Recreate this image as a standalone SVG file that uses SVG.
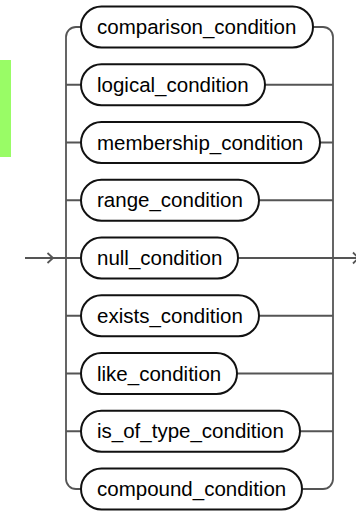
<svg xmlns="http://www.w3.org/2000/svg" width="356" height="511" viewBox="0 0 356 511">
<style>
.pill{fill:#fff;stroke:#111;stroke-width:2}
.lbl{font-family:"Liberation Sans",Arial,sans-serif;font-size:20.5px;fill:#000}
.wire{fill:none;stroke:#555;stroke-width:1.8}
</style>
<rect width="356" height="511" fill="#fff"/>
<rect x="0" y="60" width="11" height="97" fill="#99fc66"/>
<g id="connectors">
<path class="wire" d="M25,258 H81"/>
<path class="wire" d="M47.5,253 L53,258 L47.5,263"/>
<path class="wire" d="M66,37 A10,10 0 0 1 76,27 H81"/>
<path class="wire" d="M66,37 V479 A10,10 0 0 0 76,489 H81"/>
<path class="wire" d="M66,84.75 H81 M66,142.5 H81 M66,200.25 H81 M66,315.75 H81 M66,373.5 H81 M66,431.25 H81"/>
<path class="wire" d="M313,27 H323 A10,10 0 0 1 333,37 V479 A10,10 0 0 1 323,489 H302"/>
<path class="wire" d="M265,84.75 H333 M320,142.5 H333 M259,200.25 H333 M259,315.75 H333 M237,373.5 H333 M300,431.25 H333"/>
<path class="wire" d="M238,258 H356"/>
<path class="wire" d="M353,252.5 L358.5,258 L353,263.5"/>
</g>
<g id="n1"><rect class="pill" x="81" y="6.5" width="232" height="41" rx="20.5"/><text class="lbl" x="97" y="34">comparison_condition</text></g>
<g id="n2"><rect class="pill" x="81" y="64.25" width="184" height="41" rx="20.5"/><text class="lbl" x="97" y="91.75">logical_condition</text></g>
<g id="n3"><rect class="pill" x="81" y="122" width="239" height="41" rx="20.5"/><text class="lbl" x="97" y="149.5">membership_condition</text></g>
<g id="n4"><rect class="pill" x="81" y="179.75" width="178" height="41" rx="20.5"/><text class="lbl" x="97" y="207.25">range_condition</text></g>
<g id="n5"><rect class="pill" x="81" y="237.5" width="157" height="41" rx="20.5"/><text class="lbl" x="97" y="265">null_condition</text></g>
<g id="n6"><rect class="pill" x="81" y="295.25" width="178" height="41" rx="20.5"/><text class="lbl" x="97" y="322.75">exists_condition</text></g>
<g id="n7"><rect class="pill" x="81" y="353" width="156" height="41" rx="20.5"/><text class="lbl" x="97" y="380.5">like_condition</text></g>
<g id="n8"><rect class="pill" x="81" y="410.75" width="219" height="41" rx="20.5"/><text class="lbl" x="97" y="438.25">is_of_type_condition</text></g>
<g id="n9"><rect class="pill" x="81" y="468.5" width="221" height="41" rx="20.5"/><text class="lbl" x="97" y="496">compound_condition</text></g>
</svg>
